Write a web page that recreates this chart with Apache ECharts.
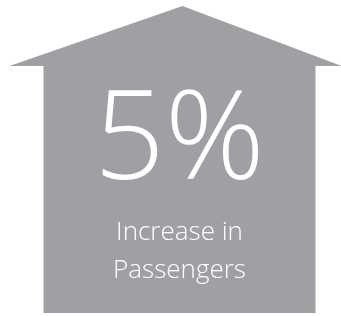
<!DOCTYPE html>
<html style="height: 100%">
<head>
<meta charset="utf-8">
<title>Passengers</title>
</head>
<body style="height: 100%; margin: 0">
<div id="container" style="width:341px;height:316px"></div>
<script type="text/javascript" src="https://cdn.jsdelivr.net/npm/echarts@6/dist/echarts.min.js"></script>
<script type="text/javascript">
var values = [5];
var unit = '%';
var captions = ['Increase in', 'Passengers'];

var house = 'path://M173,0 L332,60 L306,60 L306,307 L34,307 L34,60 L0,60 Z';

var myChart = echarts.init(document.getElementById('container'));
var option = {
    animation: false,
    grid: {left: 0, right: 0, top: 0, bottom: 0},
    xAxis: {type: 'value', min: -1, max: 1, show: false},
    yAxis: {type: 'value', min: -1, max: 1, show: false},
    series: [{
        type: 'scatter',
        data: values.map(function (v) { return {value: [0, 0], num: v}; }),
        symbol: house,
        symbolSize: [332, 307],
        symbolOffset: [5, 1.5],
        itemStyle: {color: '#9fa0a4', opacity: 1},
        label: {
            show: true,
            position: 'inside',
            offset: [4, 22],
            formatter: function (p) {
                return '{big|' + p.data.num + unit + '}\n{small|' + captions[0] + '}\n{small|' + captions[1] + '}';
            },
            rich: {
                big: {
                    fontFamily: 'Open Sans',
                    fontWeight: 300,
                    fontSize: 124,
                    lineHeight: 140,
                    color: '#ffffff',
                    align: 'center'
                },
                small: {
                    fontFamily: 'Open Sans',
                    fontWeight: 300,
                    fontSize: 26,
                    lineHeight: 38,
                    color: '#ffffff',
                    align: 'center'
                }
            }
        }
    }]
};
myChart.setOption(option);
</script>
</body>
</html>
